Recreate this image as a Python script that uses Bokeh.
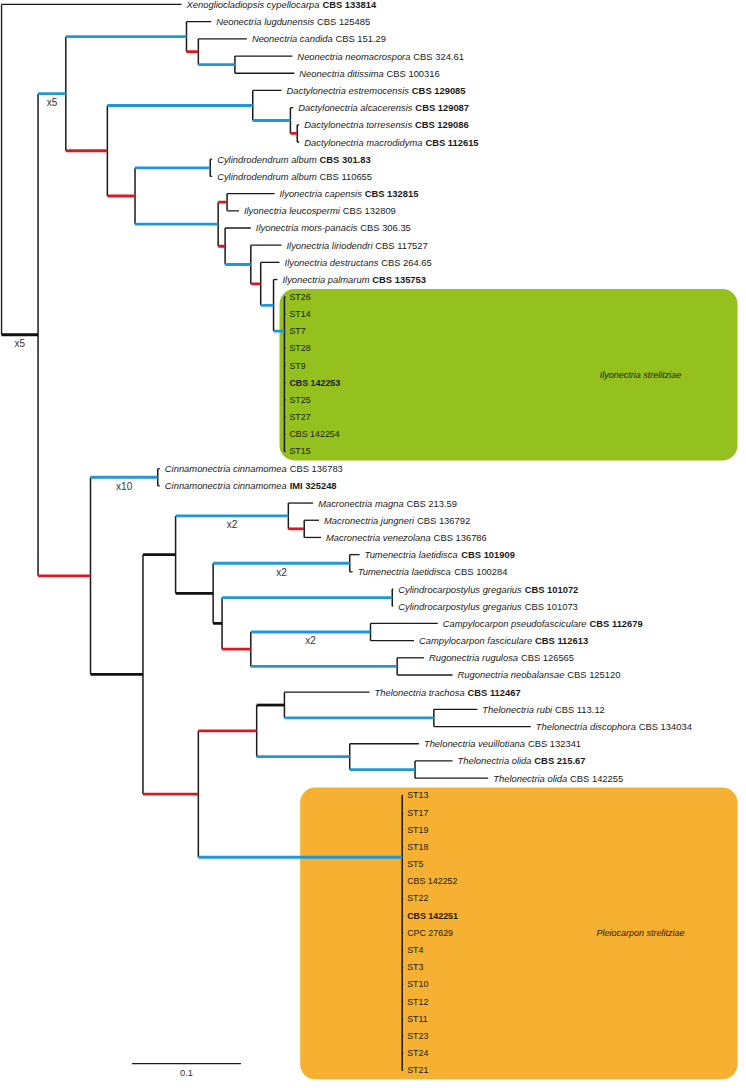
from bokeh.plotting import figure
from bokeh.models import Range1d, ColumnDataSource, BoxAnnotation
from bokeh.core.properties import value
from bokeh.embed import file_html
from bokeh.resources import INLINE

# ---------------- data ----------------
# internal nodes: id, parent, depth (substitutions/site), branch class
node_ids = ["root", "I", "A", "N", "N2", "N3", "D0", "Dc", "Dc2", "Dc3", "CI", "Cyl",
            "Ily", "Ily1", "Ily2", "Ily3", "Ily4", "Ily5", "IlyS",
            "B", "Ci", "B2", "B3", "M", "M2", "B4", "Tu", "B5", "Cs", "B6", "Cp", "Rg",
            "Th", "Th2", "Th3", "Th5", "Th4", "Th6", "PleS"]
node_parents = [None, "root", "I", "A", "N", "N2", "A", "D0", "Dc", "Dc2", "D0", "CI",
                "CI", "Ily", "Ily", "Ily2", "Ily3", "Ily4", "Ily5",
                "I", "B", "B", "B2", "B3", "M", "B3", "B4", "B4", "B5", "B5", "B6", "B6",
                "B2", "Th", "Th2", "Th3", "Th2", "Th4", "Th"]
node_depths = [0.0, 0.0336, 0.0591, 0.1700, 0.1809, 0.2145, 0.0973, 0.2309, 0.2655, 0.2718,
               0.1227, 0.1918, 0.1991, 0.2073, 0.2055, 0.2291, 0.2382, 0.2500, 0.2600,
               0.0818, 0.1436, 0.1300, 0.1600, 0.2636, 0.2782, 0.1945, 0.3200, 0.2027,
               0.3591, 0.2291, 0.3391, 0.3636, 0.1809, 0.2345, 0.2600, 0.3973, 0.3200,
               0.3800, 0.3682]
# branch class: K thick black, b blue, r red
node_branch = [None, "K", "b", "b", "r", "b", "r", "b", "b", "r", "r", "b",
               "b", "r", "r", "b", "r", "b", "b",
               "r", "b", "K", "K", "b", "r", "K", "b", "K", "b", "r", "b", "b",
               "r", "r", "K", "b", "b", "b", "b"]
# collapsed (polytomy-like) clades: row where the stem enters
node_fixed_row = {"IlyS": 19.0, "PleS": 49.6}

leaf_species = [
    "Xenogliocladiopsis cypellocarpa", "Neonectria lugdunensis", "Neonectria candida",
    "Neonectria neomacrospora", "Neonectria ditissima", "Dactylonectria estremocensis",
    "Dactylonectria alcacerensis", "Dactylonectria torresensis", "Dactylonectria macrodidyma",
    "Cylindrodendrum album", "Cylindrodendrum album", "Ilyonectria capensis",
    "Ilyonectria leucospermi", "Ilyonectria mors-panacis", "Ilyonectria liriodendri",
    "Ilyonectria destructans", "Ilyonectria palmarum",
    "", "", "", "", "", "", "", "", "", "",
    "Cinnamonectria cinnamomea", "Cinnamonectria cinnamomea", "Macronectria magna",
    "Macronectria jungneri", "Macronectria venezolana", "Tumenectria laetidisca",
    "Tumenectria laetidisca", "Cylindrocarpostylus gregarius", "Cylindrocarpostylus gregarius",
    "Campylocarpon pseudofasciculare", "Campylocarpon fasciculare", "Rugonectria rugulosa",
    "Rugonectria neobalansae", "Thelonectria trachosa", "Thelonectria rubi",
    "Thelonectria discophora", "Thelonectria veuillotiana", "Thelonectria olida",
    "Thelonectria olida",
    "", "", "", "", "", "", "", "", "", "", "", "", "", "", "", "", ""]
leaf_strains = [
    "CBS 133814", "CBS 125485", "CBS 151.29", "CBS 324.61", "CBS 100316", "CBS 129085",
    "CBS 129087", "CBS 129086", "CBS 112615", "CBS 301.83", "CBS 110655", "CBS 132815",
    "CBS 132809", "CBS 306.35", "CBS 117527", "CBS 264.65", "CBS 135753",
    "ST26", "ST14", "ST7", "ST28", "ST9", "CBS 142253", "ST25", "ST27", "CBS 142254", "ST15",
    "CBS 136783", "IMI 325248", "CBS 213.59", "CBS 136792", "CBS 136786", "CBS 101909",
    "CBS 100284", "CBS 101072", "CBS 101073", "CBS 112679", "CBS 112613", "CBS 126565",
    "CBS 125120", "CBS 112467", "CBS 113.12", "CBS 134034", "CBS 132341", "CBS 215.67",
    "CBS 142255",
    "ST13", "ST17", "ST19", "ST18", "ST5", "CBS 142252", "ST22", "CBS 142251", "CPC 27629",
    "ST4", "ST3", "ST10", "ST12", "ST11", "ST23", "ST24", "ST21"]
leaf_bold = [
    True, False, False, False, False, True, True, True, True, True, False, True,
    False, False, False, False, True,
    False, False, False, False, False, True, False, False, False, False,
    False, True, False, False, False, True, False, True, False, True, True, False,
    False, True, False, False, False, True, False,
    False, False, False, False, False, False, False, True, False,
    False, False, False, False, False, False, False, False]
leaf_parents = (
    ["root", "N", "N2", "N3", "N3", "Dc", "Dc2", "Dc3", "Dc3", "Cyl", "Cyl", "Ily1",
     "Ily1", "Ily2", "Ily3", "Ily4", "Ily5"] + ["IlyS"] * 10 +
    ["Ci", "Ci", "M", "M2", "M2", "Tu", "Tu", "Cs", "Cs", "Cp", "Cp", "Rg", "Rg",
     "Th3", "Th5", "Th5", "Th4", "Th6", "Th6"] + ["PleS"] * 17)
leaf_depths = (
    [0.1655, 0.1927, 0.2255, 0.2673, 0.2691, 0.2573, 0.2682, 0.2736, 0.2736, 0.1936,
     0.1936, 0.2509, 0.2182, 0.2291, 0.2573, 0.2555, 0.2536] + [0.2609] * 10 +
    [0.1455, 0.1455, 0.2864, 0.2918, 0.2936, 0.3291, 0.3227, 0.3600, 0.3600, 0.4009,
     0.3791, 0.3882, 0.4145, 0.3382, 0.4373, 0.4864, 0.3836, 0.4145, 0.4473] + [0.3691] * 17)

collapsed_nodes = ["I", "A", "Ci", "M", "Tu", "Cp"]
collapsed_labels = ["x5", "x5", "x10", "x2", "x2", "x2"]

clade_nodes = ["IlyS", "PleS"]
clade_names = ["Ilyonectria strelitziae", "Pleiocarpon strelitziae"]
clade_colors = ["#95c11f", "#f6b133"]
clade_box_left = [0.2555, 0.2745]

scale_bar_value = 0.1

# ---------------- layout helpers ----------------
PX_PER_UNIT = 1100.0      # 0.1 -> 110 px
ROW_PX = 17.32
FONT = "Liberation Sans"
FS = 9.4
FS_ST = 8.9

AR = {' ': 278, '.': 278, '-': 333}
for d in "0123456789":
    AR[d] = 556
AR.update(dict(A=667, B=667, C=722, D=722, E=667, F=611, G=778, H=722, I=278, J=500,
               K=667, L=556, M=833, N=722, O=778, P=667, Q=778, R=722, S=667, T=611,
               U=722, V=667, W=944, X=667, Y=667, Z=611, a=556, b=556, c=500, d=556,
               e=556, f=278, g=556, h=556, i=222, j=222, k=500, l=222, m=833, n=556,
               o=556, p=556, q=556, r=333, s=500, t=278, u=556, v=500, w=722, x=500,
               y=500, z=500))


def text_w(s, size):
    return sum(AR.get(ch, 556) for ch in s) * size / 1000.0


depth = dict(zip(node_ids, node_depths))
parent = dict(zip(node_ids, node_parents))
branch = dict(zip(node_ids, node_branch))
kids = {n: [] for n in node_ids}
for n, pa in zip(node_ids, node_parents):
    if pa is not None:
        kids[pa].append(("n", n))
for i, pa in enumerate(leaf_parents):
    kids[pa].append(("l", i))

rows = {}


def child_row(c):
    return float(c[1]) if c[0] == "l" else node_row(c[1])


def node_row(n):
    if n not in rows:
        rs = [child_row(c) for c in kids[n]]
        rows[n] = node_fixed_row.get(n, (min(rs) + max(rs)) / 2.0)
    return rows[n]


for n in node_ids:
    node_row(n)

COL = {"K": "#111111", "b": "#1f98d5", "r": "#d71a21"}
WID = {"K": 2.8, "b": 2.8, "r": 2.8}

# ---------------- figure ----------------
x0 = (0 - 1) / PX_PER_UNIT
x1 = (746 - 1) / PX_PER_UNIT
y_top = (0 - 4) / ROW_PX
y_bot = (1088 - 4) / ROW_PX

p = figure(width=738, height=1080, x_range=Range1d(x0, x1), y_range=Range1d(y_bot, y_top),
           toolbar_location=None, output_backend="svg", x_axis_location=None,
           y_axis_location=None, min_border=0)
p.grid.visible = False
p.outline_line_color = None
p.background_fill_color = "white"

# clade boxes
for cn, name, colr, left in zip(clade_nodes, clade_names, clade_colors, clade_box_left):
    lrows = [i for i, pa in enumerate(leaf_parents) if pa == cn]
    top = min(lrows) - 0.45
    bot = max(lrows) + 0.52
    p.add_layout(BoxAnnotation(left=left, right=(745 - 1) / PX_PER_UNIT, top=top, bottom=bot,
                               fill_color=colr, fill_alpha=1.0, line_color=None,
                               border_radius=15, level="underlay"))
    p.text(x=[x1 - 0.09], y=[(top + bot) / 2], text=[name], text_font=value(FONT),
           text_font_style="italic", text_font_size="9px", text_align="center",
           text_baseline="middle", text_color="#1a1a1a")

# vertical connectors
vx, vy0, vy1 = [], [], []
for n in node_ids:
    rs = [child_row(c) for c in kids[n]]
    vx.append(depth[n]); vy0.append(min(rs)); vy1.append(max(rs))
p.segment(x0=vx, y0=vy0, x1=vx, y1=vy1, line_color="#1a1a1a", line_width=1.5)

# terminal branches
lx0 = [depth[pa] for pa in leaf_parents]
lrow = list(range(len(leaf_parents)))
p.segment(x0=lx0, y0=lrow, x1=leaf_depths, y1=lrow, line_color="#1a1a1a", line_width=1.3)

# internal branches
hx0, hx1, hy, hc, hw = [], [], [], [], []
for n in node_ids:
    if parent[n] is None:
        continue
    hx0.append(depth[parent[n]]); hx1.append(depth[n]); hy.append(rows[n])
    hc.append(COL[branch[n]]); hw.append(WID[branch[n]])
p.segment(x0="x0", y0="y", x1="x1", y1="y", line_color="c", line_width="w",
          source=ColumnDataSource(dict(x0=hx0, x1=hx1, y=hy, c=hc, w=hw)))

# leaf labels
sp = dict(x=[], y=[], t=[], xo=[])
st_norm = dict(x=[], y=[], t=[], xo=[])
st_bold = dict(x=[], y=[], t=[], xo=[])
st_box_norm = dict(x=[], y=[], t=[], xo=[])
st_box_bold = dict(x=[], y=[], t=[], xo=[])
GAP = 5
for i, (s, st, b, d) in enumerate(zip(leaf_species, leaf_strains, leaf_bold, leaf_depths)):
    if s:
        sp["x"].append(d); sp["y"].append(i); sp["t"].append(s); sp["xo"].append(GAP)
        tgt = st_bold if b else st_norm
        tgt["x"].append(d); tgt["y"].append(i); tgt["t"].append(st)
        tgt["xo"].append(GAP + text_w(s + " ", FS))
    else:
        tgt = st_box_bold if b else st_box_norm
        tgt["x"].append(d); tgt["y"].append(i); tgt["t"].append(st); tgt["xo"].append(GAP - 1)

common = dict(text_font=value(FONT), text_baseline="middle", text_color="#1a1a1a")
p.text(x="x", y="y", text="t", x_offset="xo", source=ColumnDataSource(sp),
       text_font_style="italic", text_font_size=f"{FS}px", **common)
p.text(x="x", y="y", text="t", x_offset="xo", source=ColumnDataSource(st_norm),
       text_font_style="normal", text_font_size=f"{FS}px", **common)
p.text(x="x", y="y", text="t", x_offset="xo", source=ColumnDataSource(st_bold),
       text_font_style="bold", text_font_size=f"{FS}px", **common)
p.text(x="x", y="y", text="t", x_offset="xo", source=ColumnDataSource(st_box_norm),
       text_font_style="normal", text_font_size=f"{FS_ST}px", **common)
p.text(x="x", y="y", text="t", x_offset="xo", source=ColumnDataSource(st_box_bold),
       text_font_style="bold", text_font_size=f"{FS_ST}px", **common)

# collapsed-branch multipliers
cx = [(depth[parent[n]] + depth[n]) / 2 for n in collapsed_nodes]
cy = [rows[n] + 9 / ROW_PX for n in collapsed_nodes]
p.text(x=cx, y=cy, text=collapsed_labels, text_font=value(FONT), text_font_size="10px",
       text_align="center", text_baseline="middle", text_color="#333333")

# scale bar
sb_x0 = (133 - 1) / PX_PER_UNIT
sb_row = (1071 - 4) / ROW_PX
p.segment(x0=[sb_x0], y0=[sb_row], x1=[sb_x0 + scale_bar_value], y1=[sb_row],
          line_color="#1a1a1a", line_width=1.3)
p.text(x=[sb_x0 + scale_bar_value / 2], y=[sb_row + 9 / ROW_PX], text=[str(scale_bar_value)],
       text_font=value(FONT), text_font_size=f"{FS}px", text_align="center",
       text_baseline="middle", text_color="#333333")

open("out.html", "w").write(file_html(p, INLINE))
